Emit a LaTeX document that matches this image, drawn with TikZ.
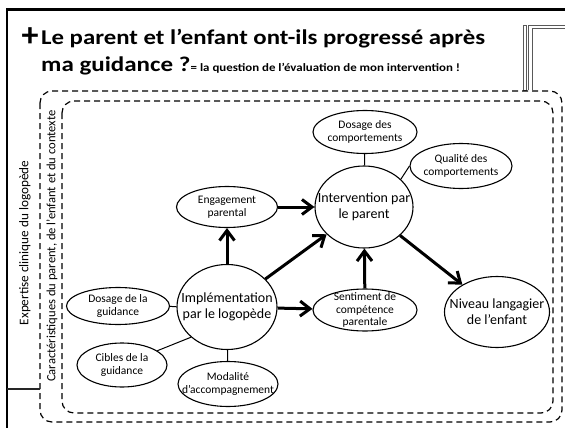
\documentclass[tikz,border=0pt]{standalone}
\usepackage{fontspec}
\setmainfont{Carlito}
\usetikzlibrary{shapes.geometric,arrows.meta}
\begin{document}
\begin{tikzpicture}[x=1pt,y=-1pt]
\tikzset{bulle/.style={ellipse,draw=black,line width=1.1pt,inner xsep=-25pt,inner ysep=-12pt,
    align=center,font=\fontsize{11.5}{12.5}\selectfont}}
\tikzset{grandebulle/.style={bulle,font=\fontsize{14}{16}\selectfont}}
\tikzset{fleche/.style={line width=3pt,-{Straight Barb[length=10pt,width=15pt]}}}
\tikzset{lien/.style={line width=1pt}}
\tikzset{cadre/.style={dash pattern=on 6pt off 4pt,line width=1.2pt,rounded corners=12pt}}
\tikzset{titre/.style={font=\bfseries\fontsize{21}{21}\selectfont,inner sep=0pt,anchor=base west}}

\useasboundingbox (0,0) rectangle (565,428);

\draw[line width=3pt] (6,10) -- (566,10);
\draw[line width=2pt] (7,9) -- (7,429);
\draw[gray!70!black,line width=0.8pt] (523,25) rectangle (526,90);
\draw[gray!70!black,line width=0.8pt] (528,90) |- (566,25);
\draw[gray!70!black,line width=0.8pt] (532,90) |- (566,28);

\node[font=\bfseries\fontsize{34}{34}\selectfont,inner sep=0pt] (croix) at (30,37) {+};
\node[titre] (titre1) at (41,45) {\scalebox{1.18}[1]{Le parent et l’enfant ont-ils progressé après}};
\node[titre] (titre2) at (41,72) {\scalebox{1.19}[1]{ma guidance ?}};
\node[titre,font=\bfseries\fontsize{11.3}{11.3}\selectfont] (soustitre) at (titre2.base east) {\scalebox{1.14}[1]{= la question de l’évaluation de mon intervention !}};

\draw[cadre] (40,91) rectangle (562,422);
\draw[cadre] (62,101) rectangle (553,413);
\draw[gray!30!black,line width=1.2pt] (7,389) -- (40,389);

\node[rotate=90,font=\fontsize{13.2}{14}\selectfont] (expert) at (25,243) {Expertise clinique du logopède};
\node[rotate=90,font=\fontsize{12.6}{13}\selectfont] (caract) at (52,246) {Caractéristiques du parent, de l’enfant et du contexte};

\node[bulle,minimum width=101pt,minimum height=41pt] (eng) at (227,207) {Engagement\\parental};
\node[grandebulle,minimum width=98pt,minimum height=82pt] (inter) at (364,207) {Intervention par\\le parent};
\node[bulle,minimum width=104pt,minimum height=43pt] (dosc) at (365,132) {Dosage des\\comportements};
\node[bulle,minimum width=102pt,minimum height=45pt] (qual) at (461,166) {Qualité des\\comportements};
\node[grandebulle,minimum width=100pt,minimum height=85pt] (impl) at (227,307) {Implémentation\\par le logopède};
\node[bulle,minimum width=103pt,minimum height=37pt] (dosg) at (118,306) {Dosage de la\\guidance};
\node[bulle,minimum width=90pt,minimum height=44pt] (cib) at (122,365) {Cibles de la\\guidance};
\node[bulle,minimum width=100pt,minimum height=45pt] (moda) at (228,384) {Modalité\\d’accompagnement};
\node[bulle,minimum width=104pt,minimum height=42pt] (sent) at (365,310) {Sentiment de\\compétence\\parentale};
\node[grandebulle,minimum width=105pt,minimum height=71pt] (niv) at (497,312) {Niveau langagier\\de l’enfant};

\foreach \de/\vers in {impl/eng,impl/inter,impl/sent,eng/inter,sent/inter,inter/niv} {
    \draw[fleche] (\de) -- (\vers);
}
\foreach \de/\vers in {dosc/inter,dosg/impl,moda/impl} {
    \draw[lien] (\de) -- (\vers);
}
\draw[lien] (qual.west) -- (inter.37);
\draw[lien] (cib.22) -- (impl.220);

\end{tikzpicture}
\end{document}
